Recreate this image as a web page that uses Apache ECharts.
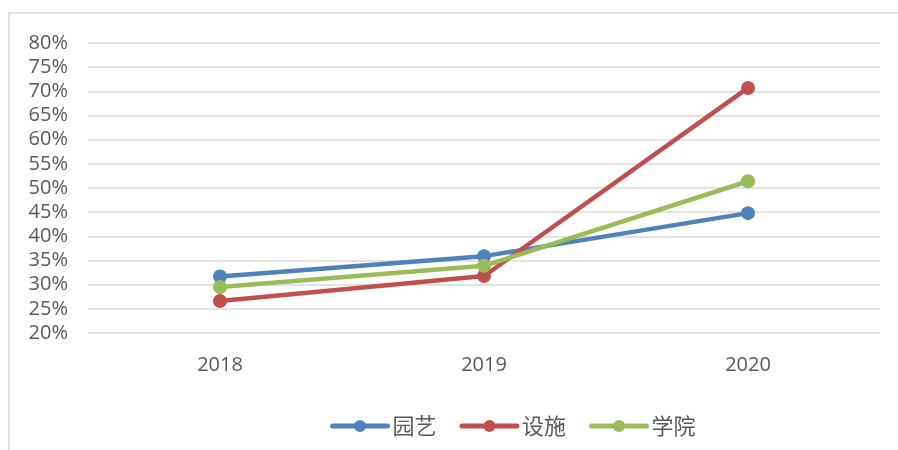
<!DOCTYPE html>
<html>
<head>
<meta charset="utf-8">
<script src="https://cdn.jsdelivr.net/npm/echarts@6/dist/echarts.min.js"></script>
<style>
  html, body { margin: 0; padding: 0; background: #fff; }
  #chart { width: 898px; height: 450px; }
</style>
</head>
<body>
<div id="chart"></div>
<script>
const years = ['2018', '2019', '2020'];
const yuanyi = [31.7, 35.9, 44.8];
const sheshi = [26.6, 31.8, 70.7];
const xueyuan = [29.5, 33.9, 51.4];

const chart = echarts.init(document.getElementById('chart'));

function lineSeries(name, data, color) {
  return {
    name: name,
    type: 'line',
    data: data,
    symbol: 'circle',
    symbolSize: 14,
    itemStyle: { color: color },
    lineStyle: { color: color, width: 4.5 },
    emphasis: { disabled: true }
  };
}

const option = {
  animation: false,
  backgroundColor: '#fff',
  textStyle: { fontFamily: 'Open Sans, Noto Sans CJK SC, sans-serif' },
  graphic: [{
    type: 'rect',
    shape: { x: 9, y: 13, width: 900, height: 450 },
    style: { fill: 'none', stroke: '#d9d9d9', lineWidth: 1.5 },
    silent: true
  }],
  grid: { left: 88, right: 18, top: 43, bottom: 117 },
  legend: {
    bottom: 8,
    left: 325,
    itemWidth: 55,
    itemHeight: 15,
    itemGap: 23,
    lineStyle: { width: 5, cap: 'round' },
    textStyle: { fontSize: 22, color: '#595959', fontFamily: 'Noto Sans CJK SC' },
    data: ['园艺', '设施', '学院']
  },
  xAxis: {
    type: 'category',
    data: years,
    axisLine: { show: false },
    axisTick: { show: false },
    axisLabel: { color: '#595959', fontSize: 20, margin: 22 }
  },
  yAxis: {
    type: 'value',
    min: 20,
    max: 80,
    interval: 5,
    axisLine: { show: false },
    axisTick: { show: false },
    axisLabel: { color: '#595959', fontSize: 20, margin: 20, formatter: '{value}%' },
    splitLine: { lineStyle: { color: '#d9d9d9', width: 1.5 } }
  },
  series: [
    lineSeries('园艺', yuanyi, '#4f81bd'),
    lineSeries('设施', sheshi, '#c0504d'),
    lineSeries('学院', xueyuan, '#9bbb59')
  ]
};

chart.setOption(option);
</script>
</body>
</html>
